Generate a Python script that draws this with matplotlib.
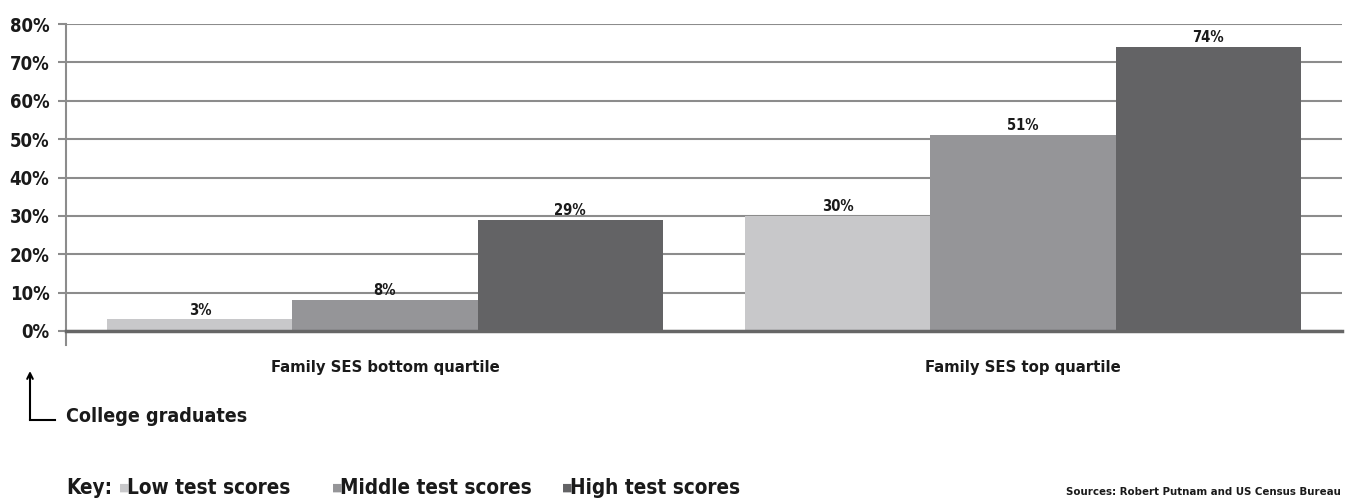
import matplotlib.pyplot as plt
from matplotlib import font_manager
import numpy as np

# pick the narrowest font that is installed
fonts = font_manager.fontManager.ttflist
names = {f.name for f in fonts}
stretch = 'normal'
if 'Liberation Sans Narrow' in names:
    family = 'Liberation Sans Narrow'
elif any(f.name == 'DejaVu Sans' and f.stretch == 'condensed' for f in fonts):
    family = 'DejaVu Sans'
    stretch = 'condensed'
else:
    family = 'DejaVu Sans'
plt.rcParams['font.family'] = [family, 'DejaVu Sans']
plt.rcParams['font.stretch'] = stretch
plt.rcParams['font.weight'] = 'bold'

# === Data ===
groups = ['Family SES bottom quartile', 'Family SES top quartile']
series = ['Low test scores', 'Middle test scores', 'High test scores']
low = [3, 30]
middle = [8, 51]
high = [29, 74]
yticks = [0, 10, 20, 30, 40, 50, 60, 70, 80]

colors = ['#c8c8ca', '#959598', '#636365']
ink = '#1a1a1a'

fig = plt.figure(figsize=(13.5, 5.01), dpi=100)
ax = fig.add_axes([66 / 1350, 1 - 331 / 501, 1276 / 1350, 307 / 501])

x = np.arange(len(groups))
width = 0.29
bar_labels = []
for i, (vals, c) in enumerate(zip([low, middle, high], colors)):
    pos = x + (i - 1) * width
    ax.bar(pos, vals, width, color=c, zorder=2)
    for p, v in zip(pos, vals):
        t = ax.text(p, v + 0.5, f'{v}%', ha='center', va='bottom', fontsize=15,
                    color=ink, zorder=3)
        bar_labels.append(t)

ax.set_xlim(-0.5, 1.5)
ax.set_ylim(0, 80)
ax.set_yticks(yticks)
ax.set_yticklabels([f'{t}%' for t in yticks], fontsize=18, color=ink)
ax.set_xticks([])
ax.yaxis.grid(True, color='#8c8c8c', linewidth=1.5, zorder=0)
ax.tick_params(axis='y', length=6, width=1.5, color='#8c8c8c', pad=6)

for s in ['top', 'right']:
    ax.spines[s].set_visible(False)
ax.spines['bottom'].set_color('#666666')
ax.spines['bottom'].set_linewidth(2.5)
ax.spines['bottom'].set_zorder(4)
ax.spines['left'].set_color('#8c8c8c')
ax.spines['left'].set_linewidth(1.5)
ax.spines['left'].set_bounds(-3.6, 80)
ax.spines['left'].set_zorder(4)

# category labels
cat_labels = [ax.text(xi, -9.5, g, ha='center', va='center', fontsize=16, color=ink)
              for xi, g in zip(x, groups)]

# arrow annotation
ax.annotate('', xy=(30 / 1350, 1 - 371 / 501), xytext=(30 / 1350, 1 - 420 / 501),
            xycoords='figure fraction', textcoords='figure fraction',
            arrowprops=dict(arrowstyle='->', color='black', lw=1.5,
                            shrinkA=0, shrinkB=0))
fig.lines.append(plt.Line2D([30 / 1350, 55 / 1350], [1 - 420 / 501, 1 - 420 / 501],
                            transform=fig.transFigure, color='black', lw=1.5))
college = fig.text(66 / 1350, 1 - 417 / 501, 'College graduates', ha='left',
                   va='center', fontsize=20, color=ink)

# key
ky = 1 - 488 / 501
key_texts = [fig.text(66 / 1350, ky, 'Key:', ha='left', va='center', fontsize=20,
                      color=ink)]
key_x = [119, 332, 562]
for kx, name, c in zip(key_x, series, colors):
    fig.text(kx / 1350, ky, '■', ha='left', va='center', fontsize=8, color=c,
             family=['DejaVu Sans'], stretch='normal')
    key_texts.append(fig.text((kx + 8) / 1350, ky, name, ha='left', va='center',
                              fontsize=20, color=ink))

source = fig.text(1341 / 1350, 1 - 492 / 501,
                  'Sources: Robert Putnam and US Census Bureau',
                  ha='right', va='center', fontsize=11, color=ink)


# squeeze a group of texts to one size so that the sample text has the reference width
def fit_group(texts, sample, target, max_size):
    renderer = fig.canvas.get_renderer()
    cur = sample.get_window_extent(renderer).width
    size = min(max_size, sample.get_fontsize() * target / cur)
    for t in texts:
        t.set_fontsize(size)


fit_group(bar_labels, bar_labels[-1], 32, 15)
fit_group(ax.get_yticklabels(), ax.get_yticklabels()[-1], 40, 18)
fit_group(cat_labels, cat_labels[0], 228, 16)
fit_group([college], college, 182, 20)
fit_group(key_texts, key_texts[2], 192, 20)
fit_group([source], source, 275, 11)

fig.savefig('out.png', dpi=100)
